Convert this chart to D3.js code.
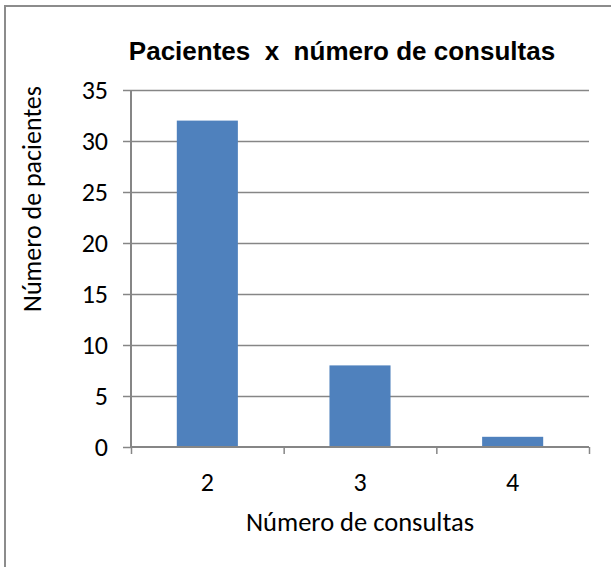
<!DOCTYPE html>
<html>
<head>
<meta charset="utf-8">
<script src="https://cdn.jsdelivr.net/npm/d3@7"></script>
<style>
  body { margin: 0; background: #fff; }
  svg { display: block; }
  .tick text { font-family: Carlito, Calibri, Lato, sans-serif; font-size: 26px; fill: #000; }
</style>
</head>
<body>
<svg id="chart" width="611" height="567"></svg>
<script>
// ---- data ----
var consultas = ["2", "3", "4"];
var pacientes = [32, 8, 1];
var yTicks = [0, 5, 10, 15, 20, 25, 30, 35];

var title = "Pacientes\u00a0\u00a0x\u00a0\u00a0número de consultas";
var xTitle = "Número de consultas";
var yTitle = "Número de pacientes";

var svg = d3.select("#chart"),
  width = +svg.attr("width"),
  height = +svg.attr("height");

var margin = { top: 90, right: 22, bottom: 120, left: 131 };
var plotW = width - margin.left - margin.right,
  plotH = 447 - margin.top;

var gridColor = "#868686";
var barColor = "#4F81BD";

// chart border (only top and left visible in the picture)
svg.append("rect")
  .attr("x", 5).attr("y", 6)
  .attr("width", 640).attr("height", 600)
  .attr("fill", "none")
  .attr("stroke", "#8c8c8c")
  .attr("stroke-width", 2);

var g = svg.append("g")
  .attr("transform", "translate(" + margin.left + "," + margin.top + ")");

var x = d3.scaleBand()
  .domain(consultas)
  .range([0, plotW])
  .paddingInner(0.6)
  .paddingOuter(0.3);

var y = d3.scaleLinear()
  .domain([0, 35])
  .range([plotH, 0]);

// horizontal gridlines
g.append("g")
  .selectAll("line")
  .data(yTicks.filter(function(d) { return d > 0; }))
  .enter()
  .append("line")
  .attr("x1", 0).attr("x2", plotW)
  .attr("y1", function(d) { return Math.round(y(d)) + 0.5; })
  .attr("y2", function(d) { return Math.round(y(d)) + 0.5; })
  .attr("stroke", gridColor)
  .attr("stroke-width", 1.5);

// bars
g.append("g")
  .selectAll("rect")
  .data(pacientes)
  .enter()
  .append("rect")
  .attr("x", function(d, i) { return x(consultas[i]); })
  .attr("y", function(d) { return y(d); })
  .attr("width", x.bandwidth())
  .attr("height", function(d) { return plotH - y(d); })
  .attr("fill", barColor);

// y axis
var yAxis = g.append("g")
  .call(d3.axisLeft(y).tickValues(yTicks).tickSize(8).tickPadding(15));
yAxis.selectAll("line").attr("stroke", gridColor).attr("stroke-width", 1.5);
yAxis.select(".domain").attr("stroke", gridColor).attr("stroke-width", 2).attr("d", "M0," + plotH + "V0");

// x axis (ticks between categories)
var xPos = d3.scaleLinear().domain([0, consultas.length]).range([0, plotW]);
var xAxis = g.append("g")
  .attr("transform", "translate(0," + plotH + ")")
  .call(d3.axisBottom(xPos).ticks(consultas.length).tickSize(7).tickFormat(""));
xAxis.selectAll("line").attr("stroke", gridColor).attr("stroke-width", 1.5);
xAxis.select(".domain").attr("stroke", gridColor).attr("stroke-width", 2).attr("d", "M0,0H" + plotW);

// x category labels
g.append("g")
  .attr("class", "tick")
  .selectAll("text")
  .data(consultas)
  .enter()
  .append("text")
  .attr("x", function(d) { return x(d) + x.bandwidth() / 2; })
  .attr("y", plotH + 44)
  .attr("text-anchor", "middle")
  .text(function(d) { return d; });

// title
svg.append("text")
  .attr("x", 342)
  .attr("y", 60)
  .attr("text-anchor", "middle")
  .style("font-family", "'Liberation Sans', Arial, sans-serif")
  .style("font-weight", "bold")
  .style("font-size", "26px")
  .text(title);

// axis titles
svg.append("text")
  .attr("x", margin.left + plotW / 2)
  .attr("y", 531)
  .attr("text-anchor", "middle")
  .style("font-family", "Carlito, Calibri, Lato, sans-serif")
  .style("font-size", "26.5px")
  .text(xTitle);

svg.append("text")
  .attr("transform", "translate(41,199) rotate(-90)")
  .attr("text-anchor", "middle")
  .style("font-family", "Carlito, Calibri, Lato, sans-serif")
  .style("font-size", "26px")
  .text(yTitle);
</script>
</body>
</html>
